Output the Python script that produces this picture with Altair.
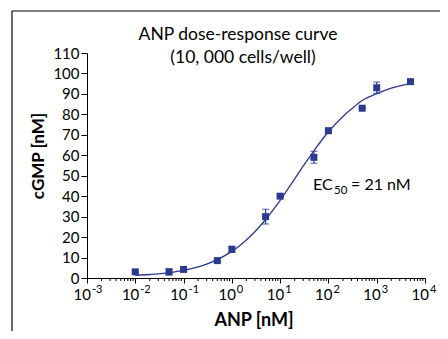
import altair as alt
import pandas as pd

# measured data
anp = [0.01, 0.05, 0.1, 0.5, 1, 5, 10, 50, 100, 500, 1000, 5000]
cgmp = [3, 3, 4.2, 8.5, 14, 30, 40, 59, 72, 83, 93, 96]
err = [0.5, 1.5, 0.5, 0.5, 1.5, 3.6, 0.5, 2.9, 1.2, 0.5, 2.8, 0.5]

# fitted curve
curve_x = [0.01, 0.02, 0.03, 0.05, 0.1, 0.2, 0.3, 0.5, 1, 2, 3, 5, 10, 20, 30, 50,
           100, 200, 300, 500, 1000, 2000, 3000, 5000]
curve_y = [1.3, 1.7, 2.0, 2.6, 3.7, 5.4, 6.8, 9.0, 13.0, 18.6, 22.6, 28.6, 38.0, 48.5,
           54.7, 62.2, 71.5, 79.0, 82.6, 86.8, 90.1, 92.8, 93.9, 95.0]

major_ticks = [0.001, 0.01, 0.1, 1, 10, 100, 1000, 10000]
major_base = ["10"] * 8
major_exp = ["-3", "-2", "-1", "0", "1", "2", "3", "4"]
minor_ticks = [m * 10 ** e for e in range(-3, 4) for m in range(2, 10)]
y_ticks = list(range(0, 111, 10))

title_lines = ["ANP dose-response curve", "(10, 000 cells/well)"]
x_title = "ANP [nM]"
y_title = "cGMP [nM]"
ec_parts = ["EC", "50", "= 21 nM"]

FONT = "Lato"
COLOR = "#2b3990"

pts = pd.DataFrame({"anp": anp, "cgmp": cgmp, "lo": [c - e for c, e in zip(cgmp, err)],
                    "hi": [c + e for c, e in zip(cgmp, err)]})
crv = pd.DataFrame({"x": curve_x, "y": curve_y})
minor = pd.DataFrame({"x": minor_ticks})
major = pd.DataFrame({"x": major_ticks, "b": major_base, "e": major_exp})

xscale = alt.Scale(type="log", domain=[0.001, 10000], nice=False)
yscale = alt.Scale(domain=[0, 110], nice=False)

xaxis = alt.Axis(values=major_ticks, tickSize=5, labels=False, title=None,
                 domainColor="black", tickColor="black", grid=False)
yaxis = alt.Axis(values=y_ticks, tickSize=6, labelFontSize=15, labelFont=FONT,
                 labelColor="black", domainColor="black", tickColor="black",
                 labelPadding=2, grid=False, labelOverlap=False, title=None)


def X(field):
    return alt.X(field, scale=xscale, axis=xaxis)


def Y(field):
    return alt.Y(field, scale=yscale, axis=yaxis)


line = alt.Chart(crv).mark_line(color=COLOR, strokeWidth=1.3, interpolate="monotone").encode(
    x=X("x:Q"), y=Y("y:Q"))
bars = alt.Chart(pts).mark_rule(color=COLOR, strokeWidth=1.2).encode(
    x=X("anp:Q"), y=Y("lo:Q"), y2="hi:Q")
caps_hi = alt.Chart(pts).mark_tick(color=COLOR, orient="horizontal", size=7, thickness=1.2).encode(
    x=X("anp:Q"), y=Y("hi:Q"))
caps_lo = alt.Chart(pts).mark_tick(color=COLOR, orient="horizontal", size=7, thickness=1.2).encode(
    x=X("anp:Q"), y=Y("lo:Q"))
points = alt.Chart(pts).mark_point(shape="square", filled=True, size=49, color=COLOR, opacity=1).encode(
    x=X("anp:Q"), y=Y("cgmp:Q"))
minor_rules = alt.Chart(minor).mark_rule(color="black", strokeWidth=1).encode(
    x=X("x:Q"), y=alt.value(225), y2=alt.value(228))

base_lbl = alt.Chart(major).mark_text(font=FONT, fontSize=15, color="black", align="right",
                                      baseline="alphabetic", dx=4).encode(
    x=X("x:Q"), y=alt.value(247), text="b:N")
exp_lbl = alt.Chart(major).mark_text(font=FONT, fontSize=11, color="black", align="left",
                                     baseline="alphabetic", dx=5).encode(
    x=X("x:Q"), y=alt.value(240), text="e:N")


def txt(s, x, y, size, weight="normal", align="left", baseline="alphabetic", angle=0):
    return alt.Chart(pd.DataFrame({"t": [s]})).mark_text(
        font=FONT, fontSize=size, fontWeight=weight, color="black", align=align,
        baseline=baseline, angle=angle).encode(text="t:N", x=alt.value(x), y=alt.value(y))


t1 = txt(title_lines[0], 151, -13, 17.5, align="center")
t2 = txt(title_lines[1], 156, 10, 17.5, align="center")
xt = txt(x_title, 167, 273, 18, weight="bold", align="center")
yt = txt(y_title, -43, 103, 17, weight="bold", align="center", angle=270)
ec1 = txt(ec_parts[0], 226, 137, 16)
ec2 = txt(ec_parts[1], 247, 141, 11.5)
ec3 = txt(ec_parts[2], 264, 137, 16)

frame_top = alt.Chart(pd.DataFrame({"a": [0]})).mark_rule(color="black", strokeWidth=1.2).encode(
    x=alt.value(-75), x2=alt.value(370), y=alt.value(-42))
frame_left = alt.Chart(pd.DataFrame({"a": [0]})).mark_rule(color="black", strokeWidth=1.2).encode(
    x=alt.value(-75), y=alt.value(-42), y2=alt.value(300))

chart = alt.layer(line, bars, caps_hi, caps_lo, points, minor_rules, base_lbl, exp_lbl,
                  t1, t2, xt, yt, ec1, ec2, ec3, frame_top, frame_left).properties(
    width=338, height=225,
    autosize=alt.AutoSizeParams(type="none"),
    padding={"left": 79, "top": 45, "right": 15, "bottom": 53},
).configure_view(stroke=None)

chart.save("out.html", embed_options={"renderer": "svg", "actions": False})
